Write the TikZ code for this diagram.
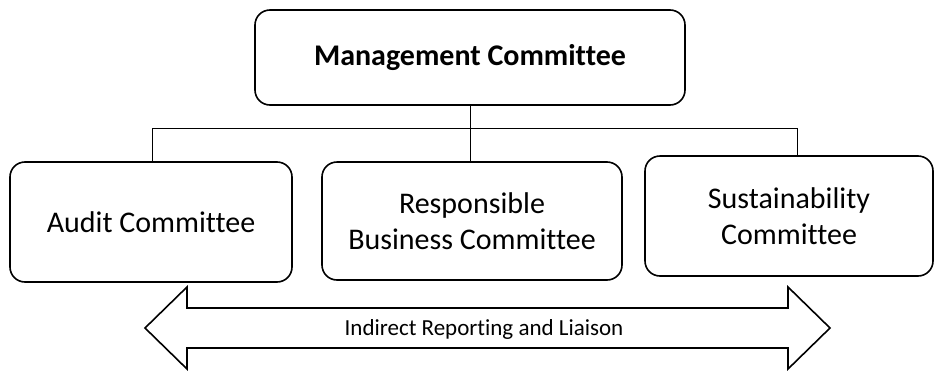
\documentclass[tikz,border=0pt]{standalone}
\usepackage{fontspec}
\setmainfont{Carlito}[Ligatures=NoCommon]
\usetikzlibrary{calc}

\begin{document}
\begin{tikzpicture}[x=1pt, y=-1pt, line width=1.6pt,
  committee/.style={draw, rounded corners=15pt, align=center, inner sep=0pt,
    font=\fontsize{30}{36}\selectfont},
  link/.style={line width=1pt}]
\useasboundingbox (0,0) rectangle (935,370);
% committees
\node[committee, minimum width=430pt, minimum height=95pt,
  font=\fontsize{30}{36}\selectfont\bfseries] (mgmt) at (470,57.5) {Management Committee};
\node[committee, minimum width=282pt, minimum height=120pt] (audit) at (151,222) {Audit Committee};
\node[committee, minimum width=300pt, minimum height=118pt] (rbc) at (472,221) {Responsible\\Business Committee};
\node[committee, minimum width=288pt, minimum height=120pt] (sust) at (789,216) {Sustainability\\Committee};
% reporting lines
\coordinate (bus) at (470,128);
\coordinate (busL) at (152,128);
\coordinate (busR) at (797,128);
\draw[link] (mgmt.south) -- (bus);
\draw[link] (busL) -- (busR);
\draw[link] (busL) -- (busL |- audit.north);
\draw[link] (bus) -- (bus |- rbc.north);
\draw[link] (busR) -- (busR |- sust.north);
% liaison arrow
\draw (145,328) -- (187,287) -- (187,308) -- (788,308) -- (788,287) -- (830,328)
  -- (788,369) -- (788,348) -- (187,348) -- (187,369) -- cycle;
\node[font=\fontsize{23}{27}\selectfont] (liaison) at (484,329) {Indirect Reporting and Liaison};
\end{tikzpicture}
\end{document}
